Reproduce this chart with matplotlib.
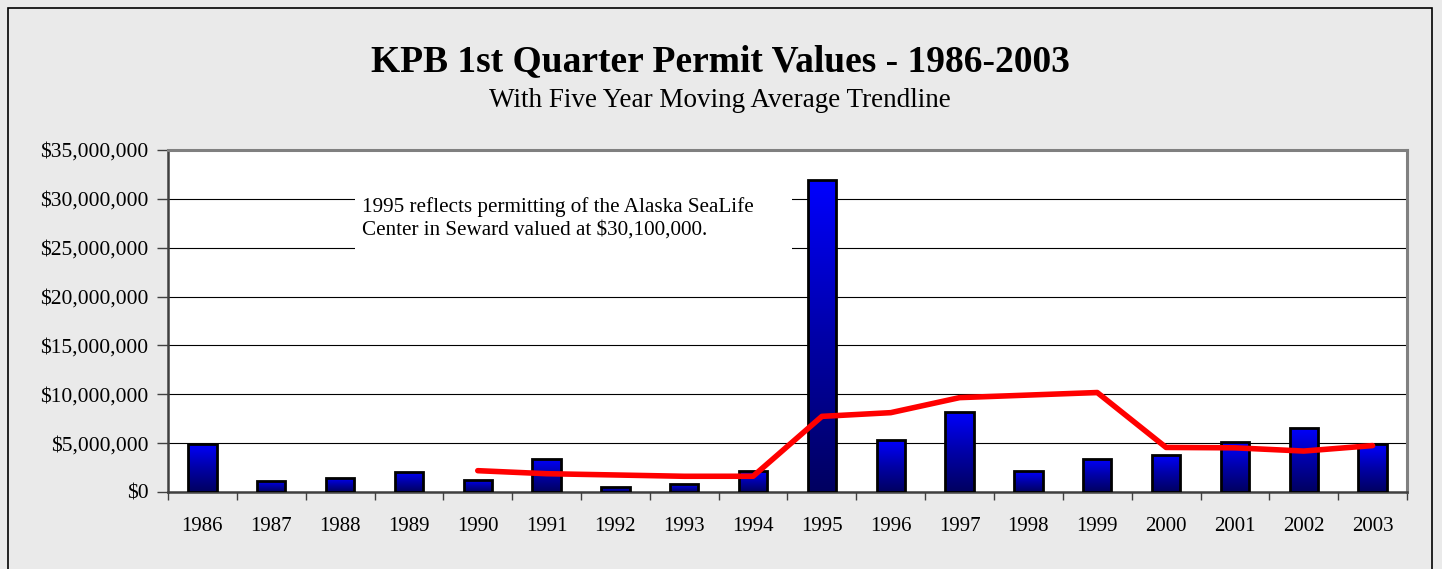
import numpy as np
import pandas as pd
import matplotlib
matplotlib.use("Agg")
import matplotlib.pyplot as plt
from matplotlib.patches import Rectangle
from matplotlib.ticker import FuncFormatter, FixedLocator
from matplotlib.colors import LinearSegmentedColormap

years = list(range(1986, 2004))
# 1st quarter permit values, dollars
permit_values = [4.95e6, 1.16e6, 1.46e6, 2.08e6, 1.26e6, 3.40e6, 0.51e6, 0.79e6, 2.10e6,
                 31.9e6, 5.30e6, 8.20e6, 2.10e6, 3.40e6, 3.80e6, 5.10e6, 6.55e6, 4.90e6]
title = "KPB 1st Quarter Permit Values - 1986-2003"
subtitle = "With Five Year Moving Average Trendline"
note = "1995 reflects permitting of the Alaska SeaLife\nCenter in Seward valued at $30,100,000."

# Excel-style five-period moving average trendline
moving_avg = pd.Series(permit_values).rolling(5).mean().to_numpy()

plt.rcParams["font.family"] = ["Liberation Serif", "DejaVu Serif"]

W, H = 1442, 569
fig = plt.figure(figsize=(W / 100, H / 100), dpi=100)
fig.patch.set_facecolor("#EAEAEA")
fig.patches.append(Rectangle((8 / W, -0.05), (1432 - 8) / W, (569 - 8) / H + 0.05,
                             transform=fig.transFigure, fill=False,
                             edgecolor="black", lw=1.2))

ax = fig.add_axes([168 / W, (H - 492) / H, (1407 - 168) / W, (492 - 150) / H])
ax.set_facecolor("white")

x = np.arange(len(years))
bars = ax.bar(x, permit_values, width=0.41, facecolor="none", edgecolor="black",
              lw=2, zorder=4)

cmap = LinearSegmentedColormap.from_list("bl", ["#000060", "#0000A8", "#0000FF"])
grad = np.linspace(0, 1, 256).reshape(-1, 1)
for b in bars:
    x0, y0 = b.get_x(), b.get_y()
    w, h = b.get_width(), b.get_height()
    im = ax.imshow(grad, cmap=cmap, origin="lower", aspect="auto",
                   extent=(x0, x0 + w, y0, y0 + h), zorder=3)
    im.set_clip_path(b)

ax.plot(x, moving_avg, color="#FF0000", lw=4, zorder=5, solid_capstyle="round")

ax.set_xlim(-0.5, len(years) - 0.5)
ax.set_ylim(0, 35e6)
ax.set_yticks(np.arange(0, 35e6 + 1, 5e6))
ax.yaxis.set_major_formatter(FuncFormatter(lambda v, p: f"${v:,.0f}"))
ax.yaxis.grid(True, color="black", lw=0.8, zorder=1)
ax.set_axisbelow(True)

ax.set_xticks(x)
ax.set_xticklabels([str(y) for y in years])
ax.xaxis.set_minor_locator(FixedLocator(np.arange(-0.5, len(years), 1.0)))
ax.tick_params(axis="x", which="major", length=0, pad=18, labelsize=15)
ax.tick_params(axis="x", which="minor", length=6, width=1, color="#404040")
ax.tick_params(axis="y", length=8, width=1, labelsize=15.5, pad=6, color="#404040")

for side in ("top", "right"):
    ax.spines[side].set_color("#808080")
    ax.spines[side].set_linewidth(2.2)
for side in ("left", "bottom"):
    ax.spines[side].set_color("#404040")
    ax.spines[side].set_linewidth(1.8)

# white box behind the note, hiding the gridlines
ax.add_patch(Rectangle((0.151, 0.69), 0.3525, 0.2, transform=ax.transAxes,
                       facecolor="white", edgecolor="none", zorder=2))
ax.text(0.1566, 0.8, note, transform=ax.transAxes, fontsize=15.2, va="center",
        ha="left", linespacing=1.2, zorder=6)

fig.text(720 / W, 1 - 62 / H, title, ha="center", va="center", fontsize=27,
         fontweight="bold")
fig.text(720 / W, 1 - 101 / H, subtitle, ha="center", va="center", fontsize=19.5)

fig.savefig("out.png", dpi=100, facecolor=fig.get_facecolor())
